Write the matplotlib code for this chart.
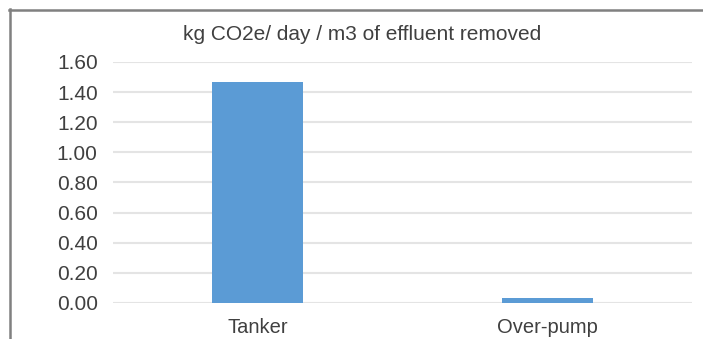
import matplotlib
matplotlib.use("Agg")
import matplotlib.pyplot as plt
from matplotlib.lines import Line2D

# data
categories = ["Tanker", "Over-pump"]
values = [1.47, 0.03]
yticks = [0.0, 0.2, 0.4, 0.6, 0.8, 1.0, 1.2, 1.4, 1.6]
title = "kg CO2e/ day / m3 of effluent removed"

plt.rcParams["font.family"] = ["Liberation Sans", "DejaVu Sans"]

W, H = 703, 339
fig = plt.figure(figsize=(W / 100, H / 100), dpi=100)
ax = fig.add_axes([113 / W, 1 - 303 / H, (692 - 113) / W, (303 - 62) / H])

ax.bar(categories, values, width=0.315, color="#5b9bd5", zorder=3)
ax.set_xlim(-0.5, 1.5)
ax.set_ylim(0, 1.6)
ax.set_yticks(yticks)
ax.set_yticklabels([f"{v:.2f}" for v in yticks])
ax.yaxis.grid(True, color="#e4e4e4", linewidth=1.5, zorder=0)
for s in ax.spines.values():
    s.set_visible(False)
ax.tick_params(axis="both", length=0, colors="#404040")
ax.tick_params(axis="y", pad=11, labelsize=15)
ax.tick_params(axis="x", pad=11, labelsize=14.5)

fig.text(362 / W, 1 - 34 / H, title, ha="center", va="center",
         fontsize=15, color="#404040")

# frame of the original chart box (top and left edges visible)
fig.add_artist(Line2D([9 / W, 1], [1 - 9.5 / H, 1 - 9.5 / H], color="#808080", linewidth=1.8))
fig.add_artist(Line2D([9.5 / W, 9.5 / W], [0, 1 - 9 / H], color="#808080", linewidth=1.8))

fig.savefig("out.png", dpi=100)
